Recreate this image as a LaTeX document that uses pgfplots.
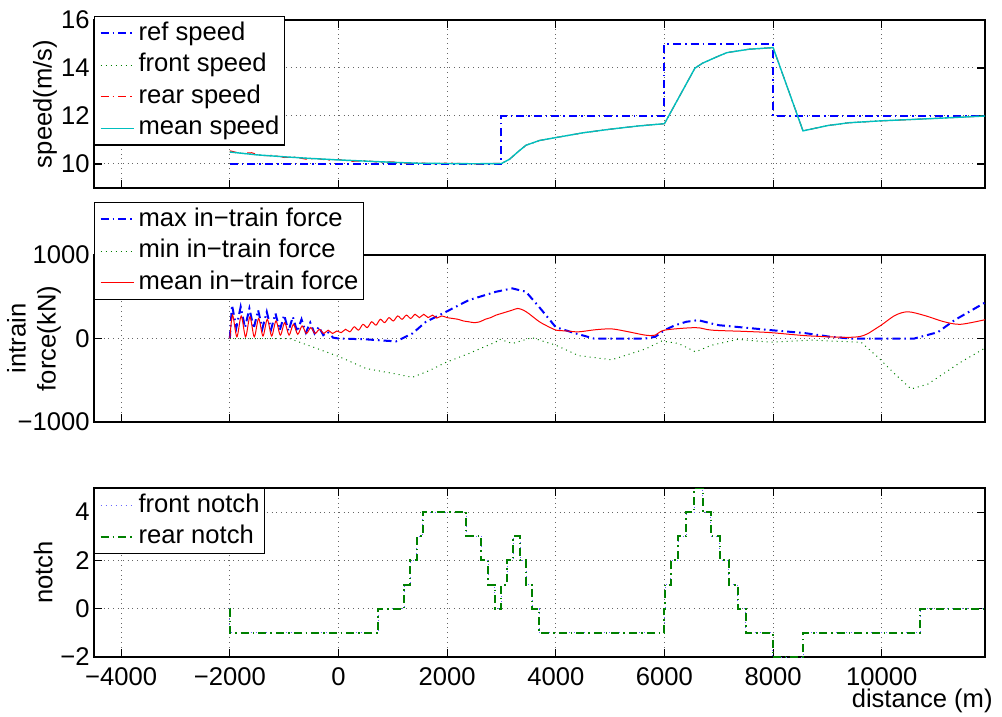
\documentclass[border=0pt]{standalone}
\usepackage{fontspec}
\setmainfont{Liberation Sans}
\usepackage{pgfplots}
\pgfplotsset{compat=1.18}
\definecolor{mblue}{rgb}{0,0,1}
\definecolor{mgreen}{rgb}{0,0.5,0}
\definecolor{mred}{rgb}{1,0,0}
\definecolor{mcyan}{rgb}{0,0.75,0.75}

\pgfplotsset{
  trainaxis/.style={
    scale only axis, width=445.5pt,
    xmin=-4500, xmax=11900,
    xtick={-4000,-2000,...,10000},
    scaled x ticks=false, scaled y ticks=false,
    grid=major,
    major grid style={dotted, black!60, line width=0.5pt},
    axis line style={line width=0.6pt},
    tick style={line width=0.6pt, black},
    major tick length=4pt,
    tick align=inside,
    xtick pos=both, ytick pos=both,
    yticklabel style={inner xsep=2pt},
    xticklabel style={inner ysep=5pt},
    legend cell align=left,
    legend style={at={(0,1)}, anchor=north west, draw=black, line width=0.6pt,
      fill=white, inner xsep=2.5pt, inner ysep=2.5pt, row sep=4pt, column sep=2pt,
      nodes={inner sep=0pt, text height=9.2pt, text depth=2.6pt}},
    legend image code/.code={\draw[#1] (0pt,0pt) -- (16.5pt,0pt);},
  },
  dashdot/.style={dash pattern=on 4pt off 2pt on 0.8pt off 2pt},
}

\begin{document}
\fontsize{12.8}{15}\selectfont
\begin{tikzpicture}
\useasboundingbox (-47pt,10pt) rectangle (454pt,-348.5pt);

% speed
\begin{axis}[trainaxis, at={(0,0)}, anchor=north west, height=84pt,
  ymin=9, ymax=16, ytick={10,12,14,16},
  xticklabels={}, yticklabels={10,12,14,16},
  ylabel={speed(m/s)},
  ylabel style={at={(axis description cs:-0.055,0.5)}, anchor=center},
  legend style={yshift=2pt}]
\addplot[mblue, line width=1pt, dashdot] coordinates {
  (-2000,10) (3000,10) (3000,12) (6000,12) (6000,15) (8000,15) (8000,12) (11900,12)};
\addplot[mgreen, line width=0.5pt, dotted] coordinates {
  (-2000,10.5) (-1500,10.38) (-1000,10.3) (-500,10.23) (0,10.17) (500,10.12)
  (1000,10.07) (1500,10.03) (2000,10.02) (2500,10.01) (3000,10.02) (3150,10.2)
  (3300,10.5) (3450,10.78) (3700,10.98) (4000,11.1) (4500,11.3) (5000,11.45)
  (5500,11.58) (6000,11.68) (6560,13.99) (6700,14.2) (7000,14.5) (7150,14.64)
  (7550,14.78) (8000,14.85) (8550,11.38) (9000,11.6) (9400,11.72) (10000,11.8)
  (10500,11.85) (11000,11.9) (11900,12.0)};
\addplot[mred, line width=0.5pt, dashdot] coordinates {
  (-2000,10.55) (-1800,10.44) (-1600,10.47) (-1400,10.34) (-1200,10.36) (-1000,10.27)
  (-800,10.29) (-600,10.2) (-400,10.23) (-200,10.16) (0,10.19) (250,10.11)
  (500,10.14) (750,10.07) (1000,10.09) (1250,10.03) (1500,10.05) (1750,10.0)
  (2000,10.04) (2500,10.0) (3000,10.03) (3150,10.2)
  (3300,10.5) (3450,10.78) (3700,10.98) (4000,11.1) (4500,11.3) (5000,11.45)
  (5500,11.58) (6000,11.68) (6560,13.99) (6700,14.2) (7000,14.5) (7150,14.64)
  (7550,14.78) (8000,14.85) (8550,11.38) (9000,11.6) (9400,11.72) (10000,11.8)
  (10500,11.85) (11000,11.9) (11900,12.0)};
\addplot[mcyan, line width=0.7pt] coordinates {
  (-2000,10.5) (-1500,10.38) (-1000,10.3) (-500,10.23) (0,10.17) (500,10.12)
  (1000,10.07) (1500,10.03) (2000,10.02) (2500,10.01) (3000,10.02) (3150,10.2)
  (3300,10.5) (3450,10.78) (3700,10.98) (4000,11.1) (4500,11.3) (5000,11.45)
  (5500,11.58) (6000,11.68) (6560,13.99) (6700,14.2) (7000,14.5) (7150,14.64)
  (7550,14.78) (8000,14.85) (8550,11.38) (9000,11.6) (9400,11.72) (10000,11.8)
  (10500,11.85) (11000,11.9) (11900,12.0)};
\legend{ref speed, front speed, rear speed, mean speed}
\end{axis}

% in-train force
\begin{axis}[trainaxis, at={(0,-117.5pt)}, anchor=north west, height=83.5pt,
  ymin=-1000, ymax=1000, ytick={-1000,0,1000},
  xticklabels={}, yticklabels={−1000,0,1000},
  ylabel={intrain\\force(kN)},
  ylabel style={align=center, at={(axis description cs:-0.0673,0.5)}, anchor=center},
  legend style={yshift=26.5pt}]
\addplot[mblue, line width=1pt, dashdot] coordinates {
  (-2000,0) (-1960,400) (-1880,130) (-1800,380) (-1720,130) (-1640,360) (-1560,120)
  (-1480,340) (-1400,120) (-1320,320) (-1240,110) (-1160,300) (-1080,100) (-1000,280)
  (-920,90) (-840,260) (-760,80) (-680,230) (-600,70) (-520,190) (-440,60) (-360,140)
  (-280,40) (-200,80) (-100,10) (0,0) (500,-10) (1060,-35) (1360,60) (1610,200)
  (1980,320) (2400,460) (2900,560) (3200,600) (3450,560) (3690,380) (4000,135)
  (4370,60) (4700,0) (5650,0) (5830,20) (6000,100) (6200,160) (6400,200) (6620,220)
  (6800,190) (6990,160) (7480,130) (7960,100) (8580,65) (9060,20) (9430,0)
  (10600,0) (11030,75) (11340,220) (11900,430)};
\addplot[mgreen, line width=0.5pt, dotted] coordinates {
  (-2000,0) (-900,0) (-480,-100) (20,-220) (510,-360) (1060,-425) (1360,-465)
  (1670,-385) (1980,-285) (2400,-180) (2900,-40) (2950,-5) (3200,-60) (3560,10)
  (4000,-80) (4420,-205) (5030,-255) (5650,-125) (5950,-30) (6260,-60) (6570,-160)
  (6870,-80) (7350,-10) (7960,-45) (8700,-20) (9620,-45) (9930,-225) (10240,-425)
  (10540,-605) (10850,-545) (11450,-285) (11900,-115)};
\addplot[mred, line width=0.5pt, smooth, tension=0.5] coordinates {
  (-2000,0) (-1950,280) (-1870,20) (-1790,270) (-1710,20) (-1630,260) (-1550,20)
  (-1470,240) (-1390,30) (-1310,230) (-1230,30) (-1150,210) (-1070,40) (-990,190)
  (-910,40) (-830,170) (-750,50) (-670,150) (-590,60) (-510,130) (-430,60) (-350,110)
  (-270,60) (-190,100) (-110,60) (-30,90) (50,70) (130,110) (210,80) (290,140)
  (370,100) (450,170) (530,130) (610,200) (690,160) (770,230) (850,190) (930,250)
  (1010,210) (1090,270) (1170,230) (1250,280) (1330,240) (1410,290) (1490,250)
  (1570,290) (1650,250) (1730,280) (1810,245) (1900,270) (2000,250) (2100,240)
  (2200,230) (2300,210) (2400,200) (2500,190) (2600,200) (2700,230) (2800,250)
  (2900,280) (3000,300) (3100,320) (3200,340) (3300,360) (3400,340) (3500,300)
  (3700,200) (3900,130) (4000,100) (4200,90) (4420,80) (4730,105) (5030,115)
  (5340,80) (5650,40) (5830,40) (6000,100) (6570,130) (6870,100) (7480,85)
  (7960,70) (8700,30) (9560,20) (9930,135) (10240,275) (10480,320) (10790,275)
  (11150,200) (11450,170) (11900,225)};
\legend{max in−train force, min in−train force, mean in−train force}
\end{axis}

% notch
\begin{axis}[trainaxis, at={(0,-234pt)}, anchor=north west, height=84.5pt,
  ymin=-2, ymax=5, ytick={-2,0,2,4},
  xticklabels={−4000,−2000,0,2000,4000,6000,8000,10000},
  yticklabels={−2,0,2,4},
  ylabel={notch},
  ylabel style={at={(axis description cs:-0.057,0.5)}, anchor=center},
  xlabel={distance (m)},
  xlabel style={at={(axis description cs:1,0)}, anchor=north east, inner sep=0pt,
    xshift=4pt, yshift=-16pt}]
\addplot[mblue!60, line width=0.5pt, dotted, const plot] coordinates {
  (-2000,0) (-1999,-1) (736,0) (1214,1) (1325,2) (1441,3) (1552,4) (2355,3)
  (2625,2) (2760,1) (2876,0) (2999,1) (3103,2) (3219,3) (3342,2) (3452,1)
  (3569,0) (3692,-1) (5997,0) (6010,1) (6120,2) (6255,3) (6402,4) (6549,5)
  (6702,4) (6856,3) (7021,2) (7181,1) (7346,0) (7500,-1) (7990,-2) (8554,-1)
  (10707,0) (11900,0)};
\addplot[mgreen, line width=1pt, dashdot, const plot] coordinates {
  (-2000,0) (-1999,-1) (736,0) (1214,1) (1325,2) (1441,3) (1552,4) (2355,3)
  (2625,2) (2760,1) (2876,0) (2999,1) (3103,2) (3219,3) (3342,2) (3452,1)
  (3569,0) (3692,-1) (5997,0) (6010,1) (6120,2) (6255,3) (6402,4) (6549,5)
  (6702,4) (6856,3) (7021,2) (7181,1) (7346,0) (7500,-1) (7990,-2) (8554,-1)
  (10707,0) (11900,0)};
\legend{front notch, rear notch}
\end{axis}
\end{tikzpicture}
\end{document}
